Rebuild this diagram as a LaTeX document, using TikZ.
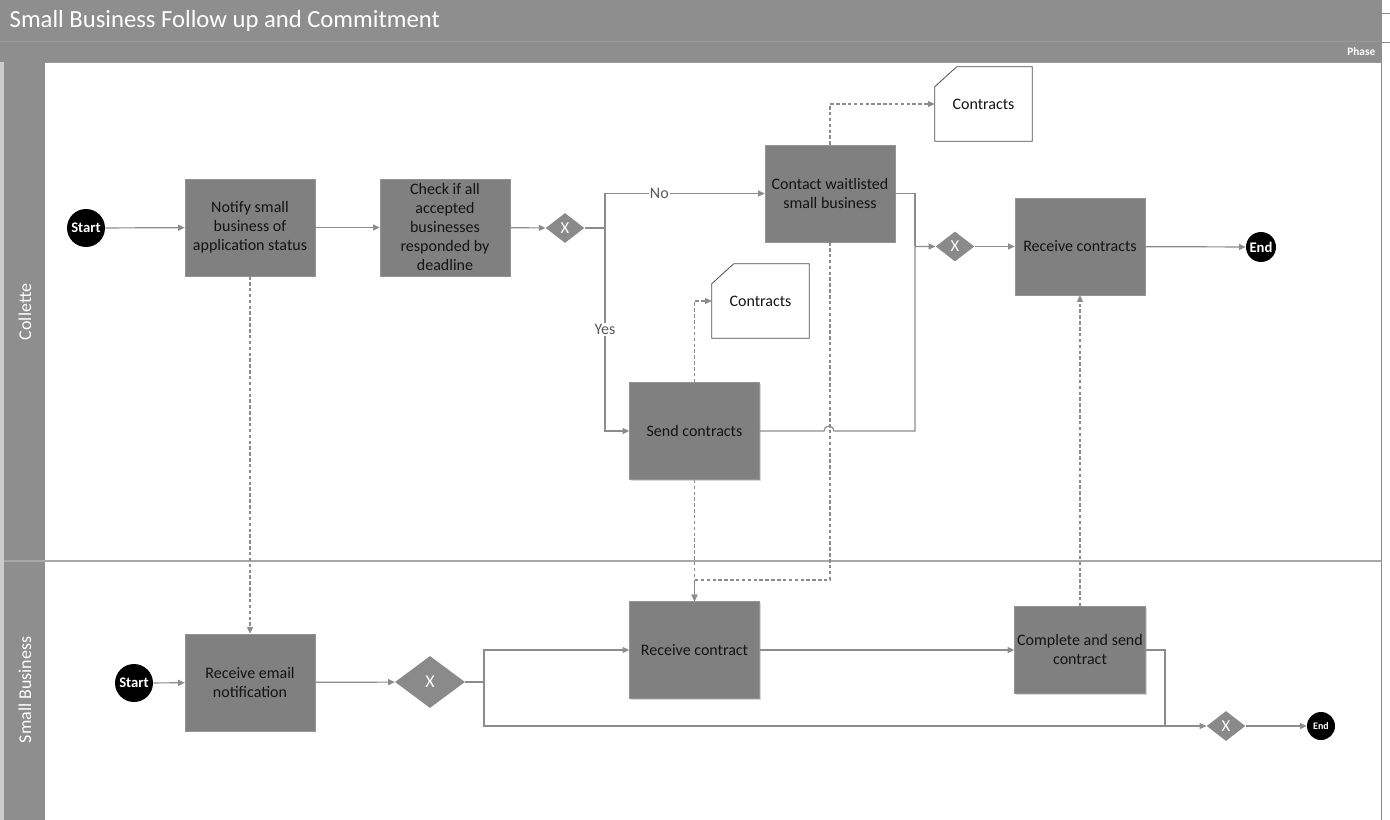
\documentclass[tikz,border=0pt]{standalone}
\usepackage{fontspec}
\setmainfont{Carlito}
\usetikzlibrary{shapes.geometric,arrows.meta,calc,shadows}

\definecolor{bargray}{HTML}{8E8E8E}
\definecolor{taskgray}{HTML}{808080}
\definecolor{gwgray}{HTML}{8A8A8A}
\definecolor{flowgray}{HTML}{8C8C8C}
\definecolor{laneline}{HTML}{A8A8A8}

\begin{document}
\begin{tikzpicture}[x=0.75pt,y=-0.75pt,
  task/.style={rectangle, fill=taskgray, draw=taskgray!85!white, line width=0.4pt,
    minimum width=97.5pt, minimum height=72.75pt, inner sep=2pt, align=center,
    text=black!92, font=\fontsize{12}{14.25}\selectfont,
    drop shadow={shadow xshift=0.9pt, shadow yshift=-0.9pt, fill=black!35, opacity=0.45}},
  gateway/.style={diamond, aspect=1.3, fill=gwgray, minimum width=29pt, minimum height=22.5pt,
    inner sep=0pt, text=white, font=\fontsize{12.5}{12.5}\selectfont},
  bigevent/.style={circle, fill=black, minimum size=28.5pt, inner sep=0pt, text=white,
    font=\bfseries\fontsize{11}{11}\selectfont},
  smallevent/.style={circle, fill=black, minimum size=22.5pt, inner sep=0pt, text=white,
    font=\bfseries\fontsize{11}{11}\selectfont},
  docnode/.style={rectangle, minimum width=72.75pt, minimum height=55.5pt, inner sep=0pt,
    text=black!92, font=\fontsize{12}{14}\selectfont},
  docline/.style={draw=black!70, line width=0.6pt, line join=miter},
  plain/.style={draw=flowgray, line width=0.9pt},
  flow/.style={plain, -{Triangle[length=5pt,width=4.5pt]}},
  assoc/.style={flow, dash pattern=on 2.6pt off 1.8pt},
  flowlabel/.style={fill=white, inner sep=1pt, text=black!65, font=\fontsize{12}{14}\selectfont},
  lanelabel/.style={rotate=90, text=white, font=\fontsize{13.5}{15}\selectfont}]

\useasboundingbox (0,0) rectangle (1390,820);

% pool header, phase band and lane headers
\fill[bargray] (0,0) rectangle (1381,62);
\draw[black!40, line width=0.5pt] (0,41) -- (1381,41);
\draw[black!40, line width=0.5pt] (0,62) -- (1381,62);
\fill[black!20] (0,62) rectangle (4,820);
\fill[bargray] (4,62) rectangle (45,820);
\draw[laneline, line width=0.8pt] (4,561) -- (1381,561);
\draw[black!45, line width=0.6pt] (1381,0) -- (1381,820);
\draw[black!45, line width=0.5pt] (1381,13) -- (1390,13);
\draw[black!45, line width=0.5pt] (1381,42) -- (1390,42);

\node[anchor=west, text=white, font=\fontsize{18.5}{22}\selectfont] (title) at (5,21) {Small Business Follow up and Commitment};
\node[anchor=east, text=white, font=\bfseries\fontsize{8.5}{9}\selectfont] (phase) at (1380,52) {Phase};
\node[lanelabel] (lane1) at (25,312) {Collette};
\node[lanelabel] (lane2) at (25,690) {Small Business};

% Collette lane
\node[bigevent] (start1) at (86,228) {Start};
\node[task] (notify) at (250,227.5) {Notify small\\business of\\application status};
\node[task] (check) at (445,227.5) {Check if all\\accepted\\businesses\\responded by\\deadline};
\node[gateway] (g1) at (565,228) {X};
\node[task] (contact) at (830,193.5) {Contact waitlisted\\small business};
\node[task] (send) at (694.5,431) {Send contracts};
\node[gateway] (g2) at (955,246.5) {X};
\node[task] (rcontracts) at (1080,246.5) {Receive contracts};
\node[smallevent] (end1) at (1261,247) {End};

\node[docnode] (doc1) at (983.5,104) {Contracts};
\node[docnode] (doc2) at (760.5,301) {Contracts};
\foreach \d in {doc1,doc2}{
  \draw[docline] (\d.south west) -- ($(\d.north west)+(0,20)$) -- ($(\d.north west)+(22,0)$)
    -- (\d.north east) -- (\d.south east) -- cycle;
}

% Small Business lane
\node[bigevent] (start2) at (134,683) {Start};
\node[task] (remail) at (250,682.5) {Receive email\\notification};
\node[gateway, minimum width=52.5pt, minimum height=39pt, font=\fontsize{13.5}{13.5}\selectfont] (g3) at (430,682) {X};
\node[task] (rcontract) at (694.5,650) {Receive contract};
\node[task, minimum height=65.25pt] (complete) at (1080,650) {Complete and send\\contract};
\node[gateway] (g4) at (1226,726) {X};
\node[smallevent, minimum size=21pt, font=\bfseries\fontsize{7.5}{7.5}\selectfont] (end2) at (1321,726) {End};

% junctions
\coordinate (j1) at (605,228);
\coordinate (j2) at (915,246.5);
\coordinate (j3) at (484,682);
\coordinate (j4) at (1165,726);
\coordinate (hop) at (829,431);
\coordinate (dj) at (830,580);

% sequence flows, Collette
\draw[flow] (start1) -- (notify);
\draw[flow] (notify) -- (check);
\draw[flow] (check) -- (g1);
\draw[plain] (g1.east) -- (j1);
\draw[flow] (j1) |- node[flowlabel, pos=0.67] {No} (contact.west);
\draw[flow] (j1) |- node[flowlabel, pos=0.25] {Yes} (send.west);
\draw[plain] (contact.east) -| (j2);
\draw[flow] (send.east) -- ($(hop)+(-5,0)$) arc[start angle=180, end angle=360, radius=5]
  -| (j2) -- (g2.west);
\draw[flow] (g2) -- (rcontracts);
\draw[flow] (rcontracts) -- (end1);

% sequence flows, Small Business
\draw[flow] (start2) -- (remail);
\draw[flow] (remail) -- (g3);
\draw[plain] (g3.east) -- (j3);
\draw[flow] (j3) |- (rcontract.west);
\draw[flow] (j3) |- (g4.west);
\draw[flow] (rcontract) -- (complete);
\draw[plain] (complete.east) -| (j4);
\draw[flow] (g4) -- (end2);

% message and data associations
\draw[assoc] (contact.north) |- (doc1.west);
\draw[assoc] (send.north) |- (doc2.west);
\draw[assoc] (notify.south) -- (remail.north);
\draw[assoc] (send.south) -- (rcontract.north);
\draw[assoc] (contact.south) -- (dj) -| (rcontract.north);
\draw[assoc] (complete.north) -- (rcontracts.south);

\end{tikzpicture}
\end{document}
